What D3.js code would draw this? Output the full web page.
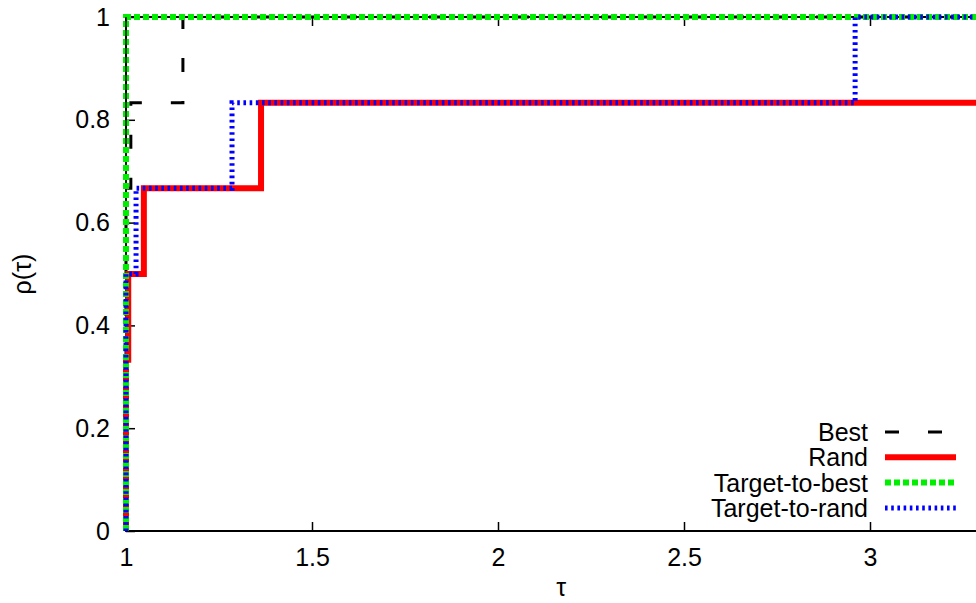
<!DOCTYPE html>
<html>
<head>
<meta charset="utf-8">
<script src="https://cdn.jsdelivr.net/npm/d3@7"></script>
<style>
  html, body { margin: 0; padding: 0; background: #fff; }
  svg { display: block; }
  text { font-family: "Liberation Sans", Arial, sans-serif; }
</style>
</head>
<body>
<div id="chart"></div>
<script>
// performance profile: step points (tau where rho jumps, value after the jump)
const seriesNames = ['Best', 'Rand', 'Target-to-best', 'Target-to-rand'];
const bestTau = [1, 1.013, 1.153];
const bestRho = [0.667, 0.833, 1];
const randTau = [1, 1.006, 1.048, 1.363];
const randRho = [0.333, 0.5, 0.667, 0.833];
const t2bTau = [1];
const t2bRho = [1];
const t2rTau = [1, 1.027, 1.285, 2.96];
const t2rRho = [0.5, 0.667, 0.833, 1];
const xTicks = [1, 1.5, 2, 2.5, 3];
const yTicks = [0, 0.2, 0.4, 0.6, 0.8, 1];

const W = 976, H = 603;
const margin = { top: 17, left: 126, bottom: 72 };
const xMax = 3.4;

const svg = d3.select('#chart').append('svg').attr('width', W).attr('height', H);

const x = d3.scaleLinear().domain([1, xMax]).range([margin.left, margin.left + 372 * (xMax - 1)]);
const y = d3.scaleLinear().domain([0, 1]).range([H - margin.bottom, margin.top]);

const styles = [
  { color: '#000000', width: 3, dash: '14,29' },
  { color: '#ff0000', width: 6, dash: null },
  { color: '#00ee00', width: 6, dash: '6,3' },
  { color: '#0000ff', width: 5, dash: '2.6,3.6' }
];
const series = [
  [bestTau, bestRho], [randTau, randRho], [t2bTau, t2bRho], [t2rTau, t2rRho]
];

// axes with inward ticks
const fs = 25;
const xAxis = svg.append('g').attr('transform', `translate(0,${y(0)})`)
  .call(d3.axisBottom(x).tickValues(xTicks).tickSizeInner(-9).tickSizeOuter(0).tickPadding(17)
    .tickFormat(d3.format('')));
const xTop = svg.append('g').attr('transform', `translate(0,${y(1)})`)
  .call(d3.axisTop(x).tickValues(xTicks).tickSizeInner(-9).tickSizeOuter(0).tickFormat(''));
const yAxis = svg.append('g').attr('transform', `translate(${x(1)},0)`)
  .call(d3.axisLeft(y).tickValues(yTicks).tickSizeInner(-9).tickSizeOuter(0).tickPadding(16)
    .tickFormat(d3.format('')));
[xAxis, xTop, yAxis].forEach(a => {
  a.select('.domain').remove();
  a.selectAll('line').attr('stroke', '#000').attr('stroke-width', 1.5);
  a.selectAll('text').attr('font-size', fs + 'px').attr('fill', '#000')
    .attr('font-family', '"Liberation Sans", Arial, sans-serif');
});

// border under the lines
svg.append('path')
  .attr('d', `M${x(xMax)},${y(1)}H${x(1)}V${y(0)}H${x(xMax)}`)
  .attr('fill', 'none').attr('stroke', '#000').attr('stroke-width', 1.8);

// lines
const line = d3.line().x(d => x(d[0])).y(d => y(d[1])).curve(d3.curveStepAfter);
series.forEach((s, i) => {
  const [taus, rhos] = s;
  const pts = [[taus[0], 0]];
  taus.forEach((t, j) => pts.push([t, rhos[j]]));
  pts.push([xMax, rhos[rhos.length - 1]]);
  const st = styles[i];
  svg.append('path').datum(pts).attr('d', line)
    .attr('fill', 'none').attr('stroke', st.color).attr('stroke-width', st.width)
    .attr('stroke-dasharray', st.dash).attr('stroke-linejoin', 'miter');
});

// left axis line stays visible through the dashes
svg.append('line').attr('x1', x(1)).attr('x2', x(1)).attr('y1', y(1)).attr('y2', y(0.75))
  .attr('stroke', '#000').attr('stroke-width', 1.5);

// legend
const lg = svg.append('g');
seriesNames.forEach((name, i) => {
  const cy = 432 + i * 25.3;
  lg.append('text').attr('x', 868).attr('y', cy + 9).attr('text-anchor', 'end')
    .attr('font-size', fs + 'px').attr('fill', '#000').text(name);
  const st = styles[i];
  lg.append('line').attr('x1', 885).attr('x2', 956).attr('y1', cy).attr('y2', cy)
    .attr('stroke', st.color).attr('stroke-width', st.width).attr('stroke-dasharray', st.dash);
});

// axis titles
svg.append('text').attr('x', x(2.17)).attr('y', 596).attr('text-anchor', 'middle')
  .attr('font-size', '25px').attr('font-family', '"DejaVu Serif", "Liberation Serif", serif')
  .text('τ');
svg.append('text').attr('transform', `translate(31,274) rotate(-90)`).attr('text-anchor', 'middle')
  .attr('font-size', fs + 'px').attr('font-family', '"DejaVu Serif", "Liberation Serif", serif')
  .text('ρ(τ)');
</script>
</body>
</html>
